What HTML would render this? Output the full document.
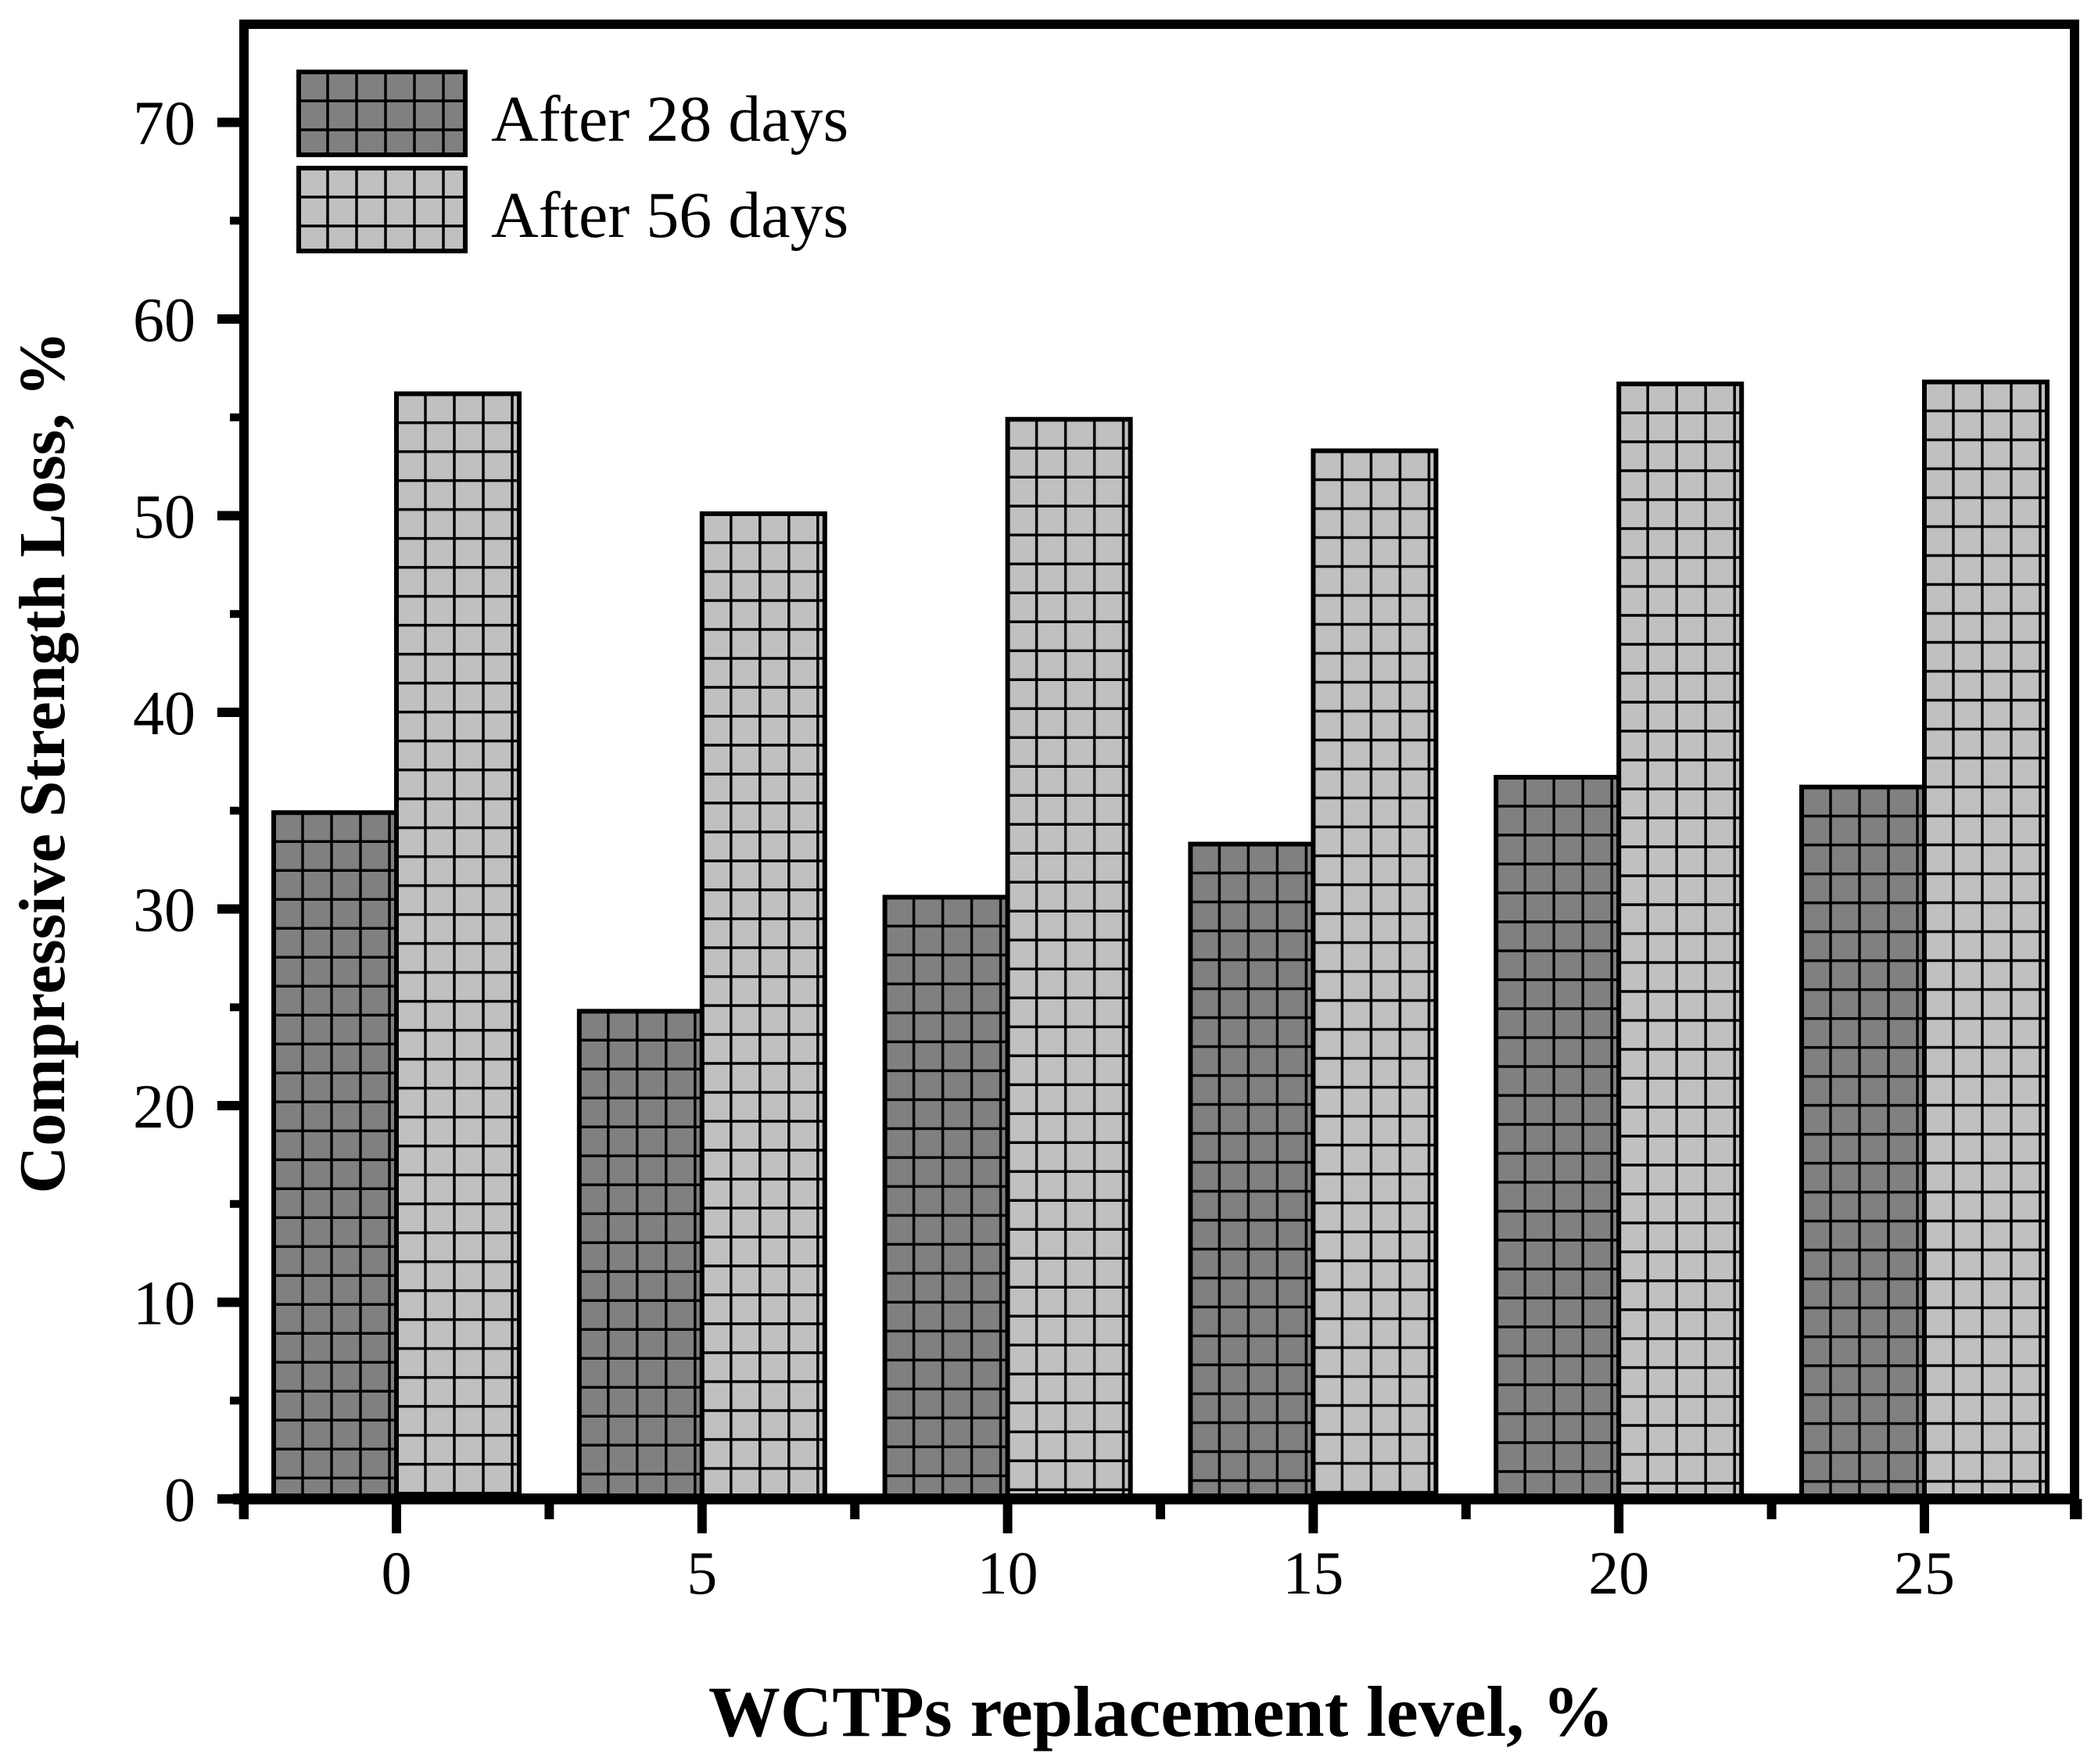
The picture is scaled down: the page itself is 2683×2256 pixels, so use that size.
<!DOCTYPE html>
<html><head><meta charset="utf-8"><style>
html,body{margin:0;padding:0;background:#fff;}
svg{display:block;}
text{font-family:"Liberation Serif",serif;fill:#000;}
</style></head><body>
<svg id="chart" width="2683" height="2256" viewBox="0 0 2683 2256">
<g id="bars"></g>
<g id="axes"></g>
<g>
  <g id="leg"></g>
  <text x="628" y="180" font-size="84">After 28 days</text>
  <text x="628" y="303" font-size="84">After 56 days</text>
</g>
<text x="1485" y="2220" font-size="92" font-weight="bold" text-anchor="middle">WCTPs replacement level, %</text>
<text transform="translate(82,975) rotate(-90)" font-size="84" font-weight="bold" text-anchor="middle">Compressive Strength Loss, %</text>
</svg>
<script>
const categories = [0, 5, 10, 15, 20, 25];
const values28 = [34.9, 24.8, 30.6, 33.3, 36.7, 36.2];
const values56 = [56.2, 50.1, 54.9, 53.3, 56.7, 56.8];
const yTicks = [0, 10, 20, 30, 40, 50, 60, 70];
const xTickLabels = ["0", "5", "10", "15", "20", "25"];

const NS = "http://www.w3.org/2000/svg";
const X0 = 312, X1 = 2653, Y0 = 1917, YTOP = 31;
function xScale(c){ return 507 + c * 78.16; }
function yScale(v){ return Y0 - v * 25.15; }
const BW = 157, CELL = 37;
function mk(tag, attrs, parent){
  const e = document.createElementNS(NS, tag);
  for (const k in attrs) e.setAttribute(k, attrs[k]);
  parent.appendChild(e); return e;
}
function gridBox(parent, x, y, w, h, fill, name){
  const g = mk('g', {}, parent);
  
  
  mk('rect', {x:x, y:y, width:w, height:h, fill:fill}, g);
  for (let gx = x + CELL; gx < x + w - 4; gx += CELL)
    mk('line', {x1:gx, y1:y, x2:gx, y2:y+h, stroke:'#000', 'stroke-width':3.5}, g);
  for (let gy = y + CELL; gy < y + h - 4; gy += CELL)
    mk('line', {x1:x, y1:gy, x2:x+w, y2:gy, stroke:'#000', 'stroke-width':3.5}, g);
  mk('rect', {x:x, y:y, width:w, height:h, fill:'none', stroke:'#000', 'stroke-width':6}, g);
  return g;
}
const bars = document.getElementById('bars');
categories.forEach((c, i) => {
  const cx = xScale(c);
  const t1 = yScale(values28[i]);
  gridBox(bars, cx - BW, t1, BW, Y0 - t1, '#808080', 'bar-28d-' + c);
  const t2 = yScale(values56[i]);
  gridBox(bars, cx, t2, BW, Y0 - t2, '#c0c0c0', 'bar-56d-' + c);
});
const leg = document.getElementById('leg');
gridBox(leg, 382, 92, 213, 106, '#808080', 'legend-swatch-28-days');
gridBox(leg, 382, 215, 213, 106, '#c0c0c0', 'legend-swatch-56-days');

const ax = document.getElementById('axes');
const frame = mk('path', {d:`M${X0},${Y0} L${X0},${YTOP} L${X1},${YTOP} L${X1},${Y0}`, fill:'none', stroke:'#000', 'stroke-width':12, 'stroke-linejoin':'miter'}, ax);


const xl = mk('line', {x1:X0-14, y1:Y0, x2:X1+6, y2:Y0, stroke:'#000', 'stroke-width':14}, ax);


yTicks.forEach((v, i) => {
  const y = yScale(v);
  mk('line', {x1:X0-34, y1:y, x2:X0, y2:y, stroke:'#000', 'stroke-width':12}, ax);
  if (i < yTicks.length - 1) {
    const ym = yScale(v + 5);
    mk('line', {x1:X0-18, y1:ym, x2:X0, y2:ym, stroke:'#000', 'stroke-width':10}, ax);
  }
  const t = mk('text', {x:250, y:y+28, 'font-size':80, 'text-anchor':'end'}, ax);
  t.textContent = String(v);
  
  
});
categories.forEach((c, i) => {
  const x = xScale(c);
  mk('line', {x1:x, y1:Y0, x2:x, y2:Y0+44, stroke:'#000', 'stroke-width':12}, ax);
  const t = mk('text', {x:x, y:2038, 'font-size':78, 'text-anchor':'middle'}, ax);
  t.textContent = xTickLabels[i];
  
  
});
for (let k = -1; k <= categories.length; k++) {
  const x = xScale(-2.5 + k * 5 + 5);
  if (x < X0 - 5 || x > X1 + 5) continue;
  mk('line', {x1:x, y1:Y0, x2:x, y2:Y0+26, stroke:'#000', 'stroke-width':12}, ax);
}
mk('line', {x1:X0, y1:Y0, x2:X0, y2:Y0+26, stroke:'#000', 'stroke-width':12}, ax);
mk('line', {x1:X1, y1:Y0, x2:X1, y2:Y0+26, stroke:'#000', 'stroke-width':12}, ax);
</script>
</body></html>
